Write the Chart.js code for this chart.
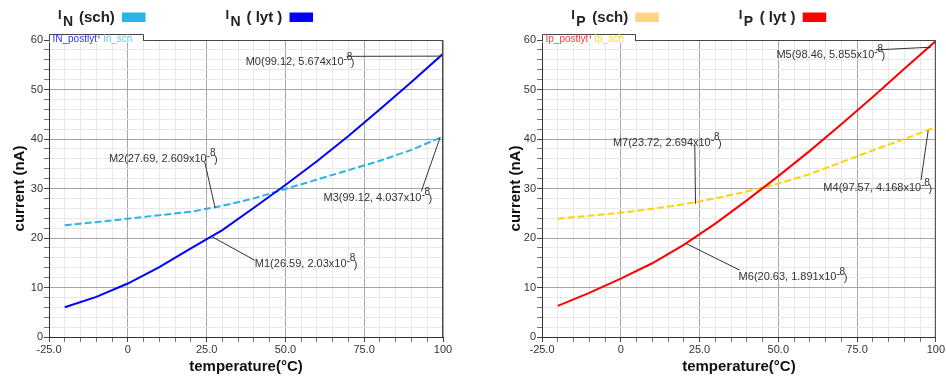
<!DOCTYPE html>
<html>
<head>
<meta charset="utf-8">
<script src="https://cdn.jsdelivr.net/npm/chart.js@4.4.1/dist/chart.umd.min.js"></script>
<style>
  body { margin: 0; background: #fff; }
  .wrap { position: relative; width: 946px; height: 378px; }
  canvas { position: absolute; top: 0; }
</style>
</head>
<body>
<div class="wrap">
  <canvas id="chartN" width="473" height="378" style="left:0"></canvas>
  <canvas id="chartP" width="473" height="378" style="left:473px"></canvas>
</div>
<script>
// temperature sweep (°C) and currents (nA)
const temps = [-20, -10, 0, 10, 20, 30, 40, 50, 60, 70, 80, 90, 100];
const inLyt = [6.0, 8.1, 10.8, 14.1, 17.9, 21.6, 26.1, 30.7, 35.5, 40.6, 46.0, 51.5, 57.2];
const inSch = [22.6, 23.2, 23.9, 24.6, 25.3, 26.5, 28.0, 29.9, 31.8, 33.7, 35.6, 37.8, 40.5];
const ipLyt = [6.3, 8.9, 11.8, 14.9, 18.6, 22.9, 27.6, 32.5, 37.6, 43.0, 48.5, 54.2, 59.8];
const ipSch = [23.9, 24.5, 25.1, 25.9, 26.8, 28.0, 29.4, 31.0, 32.9, 35.3, 37.7, 40.0, 42.4];

const xTickValues = [-25, 0, 25, 50, 75, 100];
const xTickLabels = ['-25.0', '0', '25.0', '50.0', '75.0', '100'];
const yTickValues = [0, 10, 20, 30, 40, 50, 60];
const yTickLabels = ['0', '10', '20', '30', '40', '50', '60'];

// markers: name, temperature, current (nA)
const nMarkerNames = ['M0', 'M2', 'M3', 'M1'];
const nMarkerT = [99.12, 27.69, 99.12, 26.59];
const nMarkerV = [56.74, 26.09, 40.37, 20.3];
const pMarkerNames = ['M5', 'M7', 'M4', 'M6'];
const pMarkerT = [98.46, 23.72, 97.57, 20.63];
const pMarkerV = [58.55, 26.94, 41.68, 18.91];

const FONT = "Arial, 'Liberation Sans', sans-serif";

function fmtExp(v) {
  return parseFloat((v / 10).toPrecision(4)).toString();
}

const decor = {
  id: 'decor',
  afterDatasetsDraw(chart, args, opts) {
    const {ctx, chartArea: a, scales: {x, y}} = chart;
    ctx.save();
    // frame top / right
    ctx.strokeStyle = '#444';
    ctx.lineWidth = 1;
    ctx.beginPath();
    ctx.moveTo(a.left, a.top + 0.5);
    ctx.lineTo(a.right - 0.5, a.top + 0.5);
    ctx.lineTo(a.right - 0.5, a.bottom);
    ctx.stroke();

    // tab with trace names
    const tl = Math.round(a.left) + 0.5, tr = tl + opts.tabWidth, tt = a.top - 6 + 0.5;
    ctx.fillStyle = '#fff';
    ctx.fillRect(tl, tt, opts.tabWidth, 8);
    ctx.beginPath();
    ctx.moveTo(tl, a.top + 1);
    ctx.lineTo(tl, tt);
    ctx.lineTo(tr, tt);
    ctx.lineTo(tr, a.top + 1);
    ctx.stroke();
    ctx.font = '10px ' + FONT;
    ctx.textBaseline = 'alphabetic';
    ctx.fillStyle = opts.tab[0].color;
    ctx.fillText(opts.tab[0].text, tl + 3, a.top + 2);
    const w0 = ctx.measureText(opts.tab[0].text).width;
    ctx.strokeStyle = '#555';
    ctx.beginPath();
    ctx.moveTo(tl + 5 + w0, tt + 1);
    ctx.lineTo(tl + 5 + w0, tt + 4);
    ctx.stroke();
    ctx.fillStyle = opts.tab[1].color;
    ctx.fillText(opts.tab[1].text, tl + 9 + w0, a.top + 2);

    // marker labels and leader lines
    opts.markers.names.forEach((name, i) => {
      const px = x.getPixelForValue(opts.markers.t[i]);
      const py = y.getPixelForValue(opts.markers.v[i]);
      const pl = opts.markers.place[i];
      const ax = x.getPixelForValue(pl.ax), ay = y.getPixelForValue(pl.ay);
      ctx.strokeStyle = '#333';
      ctx.lineWidth = 1;
      ctx.beginPath();
      ctx.moveTo(ax, ay);
      ctx.lineTo(px, py);
      ctx.stroke();

      const lx = x.getPixelForValue(pl.lx), ly = y.getPixelForValue(pl.ly) + 4;
      const main = name + '(' + opts.markers.t[i].toFixed(2) + ', ' + fmtExp(opts.markers.v[i]) + 'x10';
      ctx.fillStyle = '#333';
      ctx.font = '11px ' + FONT;
      ctx.fillText(main, lx, ly);
      let cx = lx + ctx.measureText(main).width;
      ctx.fillText('-', cx, ly - 3);
      cx += ctx.measureText('-').width;
      ctx.font = '10px ' + FONT;
      ctx.fillText('8', cx - 0.5, ly - 5.5);
      cx += ctx.measureText('8').width - 2;
      ctx.font = '11px ' + FONT;
      ctx.fillText(')', cx, ly + 1);
    });

    // legend at top
    opts.legend.forEach(item => {
      ctx.fillStyle = '#222';
      ctx.font = 'bold 13px ' + FONT;
      ctx.fillText('I', item.x, 18.5);
      ctx.font = 'bold 14px ' + FONT;
      ctx.fillText(item.sub, item.x + 5, 26);
      ctx.font = 'bold 15px ' + FONT;
      ctx.fillText(item.text, item.x + 21, 22);
      ctx.fillStyle = item.color;
      ctx.fillRect(item.x + 64, 12.5, 23.5, 9.5);
    });
    ctx.restore();
  }
};

function tickLabel(values, labels) {
  return v => {
    const idx = values.indexOf(v);
    return idx >= 0 ? labels[idx] : '';
  };
}

function buildChart(id, cfg) {
  const isMajorX = c => c.tick && xTickValues.includes(c.tick.value);
  const isMajorY = c => c.tick && yTickValues.includes(c.tick.value);
  return new Chart(document.getElementById(id), {
    type: 'line',
    data: {
      datasets: [
        {
          label: cfg.lytLabel,
          data: temps.map((t, i) => ({x: t, y: cfg.lyt[i]})),
          borderColor: cfg.lytColor,
          borderWidth: 2,
          pointRadius: 0,
          tension: 0
        },
        {
          label: cfg.schLabel,
          data: temps.map((t, i) => ({x: t, y: cfg.sch[i]})),
          borderColor: cfg.schColor,
          borderWidth: 2,
          borderDash: [7, 3],
          pointRadius: 0,
          tension: 0
        }
      ]
    },
    options: {
      responsive: false,
      animation: false,
      layout: {padding: {left: 0, right: cfg.padRight, top: 40, bottom: 0}},
      plugins: {
        legend: {display: false},
        tooltip: {enabled: false},
        decor: cfg.decor
      },
      scales: {
        x: {
          type: 'linear',
          min: -25,
          max: 100,
          ticks: {
            stepSize: 5,
            maxTicksLimit: 100,
            autoSkip: false,
            maxRotation: 0,
            padding: 1,
            color: '#333',
            font: {family: FONT, size: 11},
            callback: tickLabel(xTickValues, xTickLabels)
          },
          grid: {
            color: c => isMajorX(c) ? '#a6a6a6' : '#e8e8e8',
            tickColor: c => isMajorX(c) ? '#444' : '#777',
            tickLength: 5
          },
          border: {color: '#333'},
          title: {
            display: true,
            text: 'temperature(°C)',
            color: '#111',
            font: {family: FONT, size: 15, weight: 'bold'},
            padding: {top: 0, bottom: 2}
          },
          afterFit: s => { s.height = 41; }
        },
        y: {
          min: 0,
          max: 60,
          ticks: {
            stepSize: 2,
            maxTicksLimit: 100,
            autoSkip: false,
            padding: 1,
            color: '#333',
            font: {family: FONT, size: 11},
            callback: tickLabel(yTickValues, yTickLabels)
          },
          grid: {
            color: c => isMajorY(c) ? '#a6a6a6' : '#e8e8e8',
            tickColor: c => isMajorY(c) ? '#444' : '#777',
            tickLength: 5
          },
          border: {color: '#333'},
          title: {
            display: true,
            text: 'current (nA)',
            color: '#111',
            font: {family: FONT, size: 15, weight: 'bold'},
            padding: {top: cfg.yTitlePad, bottom: 0}
          },
          afterFit: s => { s.width = cfg.yWidth; }
        }
      }
    },
    plugins: [decor]
  });
}

buildChart('chartN', {
  lyt: inLyt, sch: inSch,
  lytLabel: 'IN_postlyt', schLabel: 'In_sch',
  lytColor: '#0000ff', schColor: '#2ab4e4',
  padRight: 30, yWidth: 49, yTitlePad: 11,
  decor: {
    tabWidth: 94,
    tab: [{text: 'IN_postlyt', color: '#3030ff'}, {text: 'In_sch', color: '#6cc8ec'}],
    legend: [
      {x: 58, sub: 'N', text: '(sch)', color: '#2ab4e4'},
      {x: 225.5, sub: 'N', text: '( lyt )', color: '#0000ff'}
    ],
    markers: {
      names: nMarkerNames, t: nMarkerT, v: nMarkerV,
      place: [
        {lx: 37.4, ly: 55.7, ax: 69.4, ay: 56.7},
        {lx: -6.0, ly: 36.2, ax: 24.4, ay: 35.4},
        {lx: 62.1, ly: 28.3, ax: 93.1, ay: 29.4},
        {lx: 40.3, ly: 15.0, ax: 40.3, ay: 15.5}
      ]
    }
  }
});

buildChart('chartP', {
  lyt: ipLyt, sch: ipSch,
  lytLabel: 'Ip_postlyt', schLabel: 'Ip_sch',
  lytColor: '#ff0000', schColor: '#ffd200',
  padRight: 10, yWidth: 69, yTitlePad: 34,
  decor: {
    tabWidth: 93,
    tab: [{text: 'Ip_postlyt', color: '#ff3a3a'}, {text: 'Ip_sch', color: '#ffdc30'}],
    legend: [
      {x: 98.3, sub: 'P', text: '(sch)', color: '#ffd285'},
      {x: 265.7, sub: 'P', text: '( lyt )', color: '#ff0000'}
    ],
    markers: {
      names: pMarkerNames, t: pMarkerT, v: pMarkerV,
      place: [
        {lx: 49.4, ly: 57.2, ax: 81.0, ay: 58.0},
        {lx: -2.5, ly: 39.4, ax: 23.5, ay: 38.8},
        {lx: 64.3, ly: 30.3, ax: 95.3, ay: 31.7},
        {lx: 37.4, ly: 12.3, ax: 37.8, ay: 13.5}
      ]
    }
  }
});
</script>
</body>
</html>
